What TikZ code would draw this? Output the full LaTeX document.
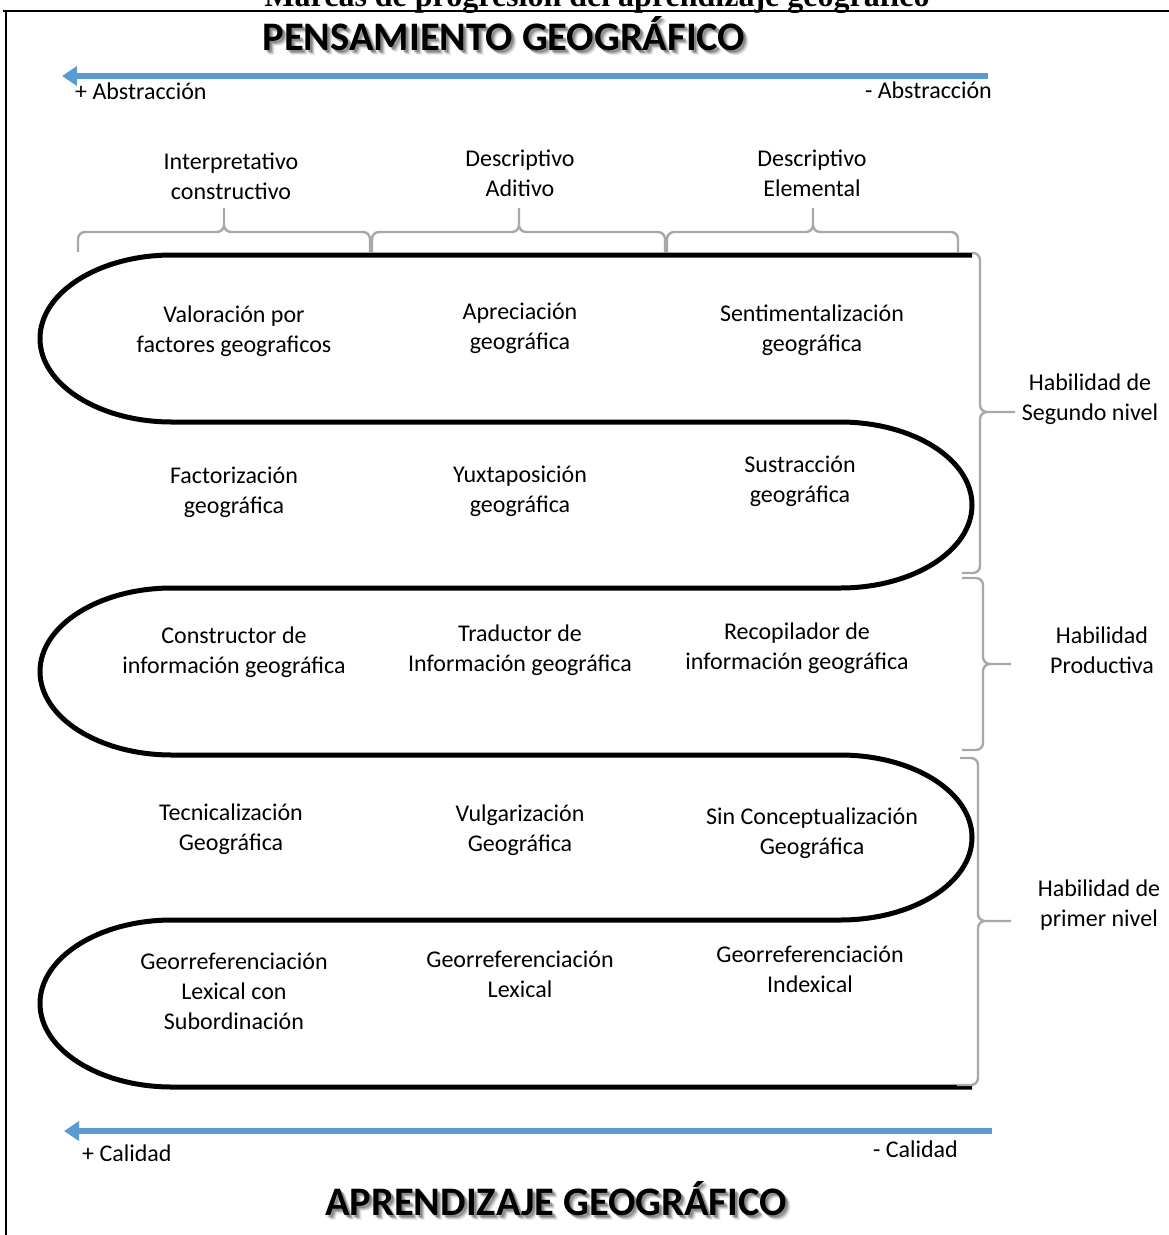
\documentclass[tikz,border=0pt]{standalone}
\usepackage{fontspec}
\setmainfont{Carlito}
\newfontfamily\captionserif{Liberation Serif}
\usetikzlibrary{arrows.meta}

\definecolor{axisblue}{RGB}{91,155,213}
\definecolor{bracegray}{RGB}{168,168,168}

% horizontal curly brace above a column: left x, right x, tip x
\newcommand\colbrace[3]{%
  \draw[bracestyle] (#1,252) -- (#1,232) -- (#3,232) -- (#3,208)
                    (#3,208) -- (#3,232) -- (#2,232) -- (#2,252);}
% vertical curly brace beside rows: spine x, top y, bottom y, tip y, top end x, bottom end x, tip x
\newcommand\rowbrace[7]{%
  \draw[bracestyle] (#5,#2) -- (#1,#2) -- (#1,#4) -- (#7,#4)
                    (#7,#4) -- (#1,#4) -- (#1,#3) -- (#6,#3);}

\begin{document}
\begin{tikzpicture}[x=1pt,y=-1pt,
  txt/.style={align=center,inner sep=0pt,font=\fontsize{24}{30}\selectfont},
  sidetxt/.style={inner sep=0pt,font=\fontsize{24}{30}\selectfont},
  headtxt/.style={inner sep=0pt,anchor=base,font=\fontsize{40.5}{44}\selectfont\bfseries},
  bracestyle/.style={draw=bracegray,line width=2.4pt,rounded corners=7pt},
  axis/.style={draw=axisblue,line width=5.5pt,-{Triangle[length=15pt,width=19pt]}},
  ribbon/.style={draw=black,line width=5pt,line join=round}]

\useasboundingbox (0,0) rectangle (1169,1235);
\fill[white] (0,0) rectangle (1169,1235);

% caption above the frame
\begin{scope}
  \clip (0,0) rectangle (1169,1235);
  \node[anchor=base,inner sep=0pt,font=\captionserif\fontsize{32}{34}\selectfont\bfseries]
    (caption) at (597,6) {Marcas de progresión del aprendizaje geográfico};
\end{scope}

% frame
\draw[line width=2pt] (3,11) -- (1169,11);
\draw[line width=2pt] (6,11) -- (6,1235);

% headings with soft drop shadow
\foreach \dx/\dy/\op in {5/5/0.08,4/4/0.12,3/3/0.18,2/2/0.2}{
  \node[headtxt,text=black,opacity=\op] at (504+\dx,50+\dy) {PENSAMIENTO GEOGRÁFICO};
  \node[headtxt,text=black,opacity=\op] at (556+\dx,1215+\dy) {APRENDIZAJE GEOGRÁFICO};
}
\node[headtxt] (thinkhead) at (504,50) {PENSAMIENTO GEOGRÁFICO};
\node[headtxt] (learnhead) at (556,1215) {APRENDIZAJE GEOGRÁFICO};

% abstraction axis
\coordinate (absStart) at (988,76);
\coordinate (absEnd) at (62,76);
\draw[axis] (absStart) -- (absEnd);
\node[sidetxt,anchor=west] (absL) at (75,91) {+ Abstracción};
\node[sidetxt,anchor=east] (absR) at (992,90) {- Abstracción};

% quality axis
\coordinate (calStart) at (992,1131);
\coordinate (calEnd) at (64,1131);
\draw[axis] (calStart) -- (calEnd);
\node[sidetxt,anchor=west] (calL) at (82,1153) {+ Calidad};
\node[sidetxt,anchor=east] (calR) at (958,1149) {- Calidad};

% column headings and their braces
\node[txt] (col1) at (231,176.5) {Interpretativo\\constructivo};
\node[txt] (col2) at (520,173) {Descriptivo\\Aditivo};
\node[txt] (col3) at (812,173) {Descriptivo\\Elemental};
\colbrace{78}{370}{224}
\colbrace{372}{665}{519}
\colbrace{667}{958}{813}

% serpentine ribbon
\draw[ribbon]
  (972,255) -- (172,255)
  .. controls (99.1,255) and (40,292.4) .. (40,338.5)
  .. controls (40,384.6) and (99.1,422) .. (172,422)
  -- (840,422)
  .. controls (912.9,422) and (972,459.2) .. (972,505)
  .. controls (972,550.8) and (912.9,588) .. (840,588)
  -- (172,588)
  .. controls (99.1,588) and (40,625.4) .. (40,671.5)
  .. controls (40,717.6) and (99.1,755) .. (172,755)
  -- (840,755)
  .. controls (912.9,755) and (972,791.9) .. (972,837.5)
  .. controls (972,883.1) and (912.9,920) .. (840,920)
  -- (172,920)
  .. controls (99.1,920) and (40,957.4) .. (40,1003.5)
  .. controls (40,1049.6) and (99.1,1087) .. (172,1087)
  -- (972,1087);

% row contents
\node[txt] (r1c1) at (234,331.5) {Valoración por\\factores geograficos};
\node[txt] (r1c2) at (520,328.5) {Apreciación\\geográfica};
\node[txt] (r1c3) at (812,330.5) {Sentimentalización\\geográfica};

\node[txt] (r2c1) at (234,492) {Factorización\\geográfica};
\node[txt] (r2c2) at (520,491) {Yuxtaposición\\geográfica};
\node[txt] (r2c3) at (800,481) {Sustracción\\geográfica};

\node[txt] (r3c1) at (234,652) {Constructor de\\información geográfica};
\node[txt] (r3c2) at (520,650) {Traductor de\\Información geográfica};
\node[txt] (r3c3) at (797,648) {Recopilador de\\información geográfica};

\node[txt] (r4c1) at (231,829) {Tecnicalización\\Geográfica};
\node[txt] (r4c2) at (520,830) {Vulgarización\\Geográfica};
\node[txt] (r4c3) at (812,833) {Sin Conceptualización\\Geográfica};

\node[txt] (r5c1) at (234,991) {Georreferenciación\\Lexical con\\Subordinación};
\node[txt] (r5c2) at (520,974) {Georreferenciación\\Lexical};
\node[txt] (r5c3) at (810,969) {Georreferenciación\\Indexical};

% skill levels and their braces
\rowbrace{980}{253}{573}{412}{972}{962}{1015}
\rowbrace{983}{578}{750}{664}{962}{962}{1011}
\rowbrace{978}{758}{1085}{921}{960}{957}{1011}
\node[txt] (lvl2) at (1090,399) {Habilidad de\\Segundo nivel};
\node[txt] (lvlp) at (1102,650) {Habilidad\\Productiva};
\node[txt] (lvl1) at (1099,905) {Habilidad de\\primer nivel};

\end{tikzpicture}
\end{document}
